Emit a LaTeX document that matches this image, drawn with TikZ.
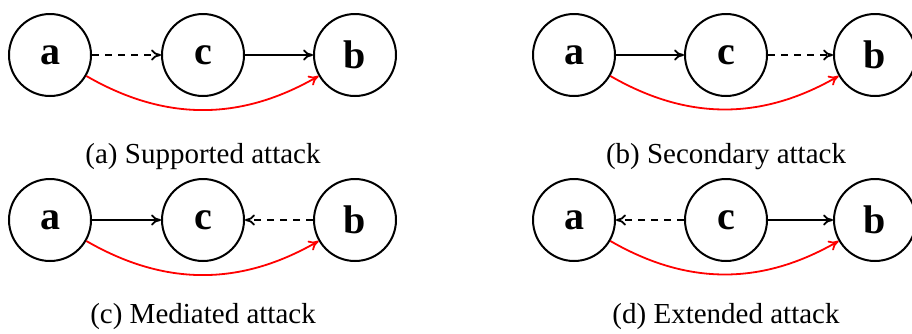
\documentclass[tikz,border=0pt]{standalone}
\usepackage{fontspec}
\setmainfont{Liberation Serif}
\usetikzlibrary{arrows.meta}
\begin{document}
\begin{tikzpicture}[x=1pt,y=-1pt,
  vert/.style={circle,draw,line width=2pt,minimum size=82pt,inner sep=0pt,font=\fontsize{40}{40}\selectfont\bfseries},
  arr/.style={line width=1.8pt,-{To[length=10pt,width=11pt]}},
  dsh/.style={arr,dash pattern=on 7pt off 6pt},
  att/.style={arr,red,out=-30,in=-150,looseness=1},
  captxt/.style={font=\fontsize{29}{29}\selectfont}]
\useasboundingbox (0,0) rectangle (912,333);
% (a)
\node[vert] (a1) at (50,55) {a};
\node[vert] (c1) at (203,55) {c};
\node[vert] (b1) at (355,55) {b};
\draw[dsh] (a1) -- (c1);
\draw[arr] (c1) -- (b1);
\draw[att] (a1) to (b1);
\node[captxt] (t1) at (203,157) {(a) Supported attack};
% (b)
\node[vert] (a2) at (574,55) {a};
\node[vert] (c2) at (726,55) {c};
\node[vert] (b2) at (875,55) {b};
\draw[arr] (a2) -- (c2);
\draw[dsh] (c2) -- (b2);
\draw[att] (a2) to (b2);
\node[captxt] (t2) at (726,157) {(b) Secondary attack};
% (c)
\node[vert] (a3) at (50,220) {a};
\node[vert] (c3) at (203,220) {c};
\node[vert] (b3) at (355,220) {b};
\draw[arr] (a3) -- (c3);
\draw[dsh] (b3) -- (c3);
\draw[att] (a3) to (b3);
\node[captxt] (t3) at (203,317) {(c) Mediated attack};
% (d)
\node[vert] (a4) at (574,220) {a};
\node[vert] (c4) at (726,220) {c};
\node[vert] (b4) at (875,220) {b};
\draw[dsh] (c4) -- (a4);
\draw[arr] (c4) -- (b4);
\draw[att] (a4) to (b4);
\node[captxt] (t4) at (726,317) {(d) Extended attack};
\end{tikzpicture}
\end{document}
